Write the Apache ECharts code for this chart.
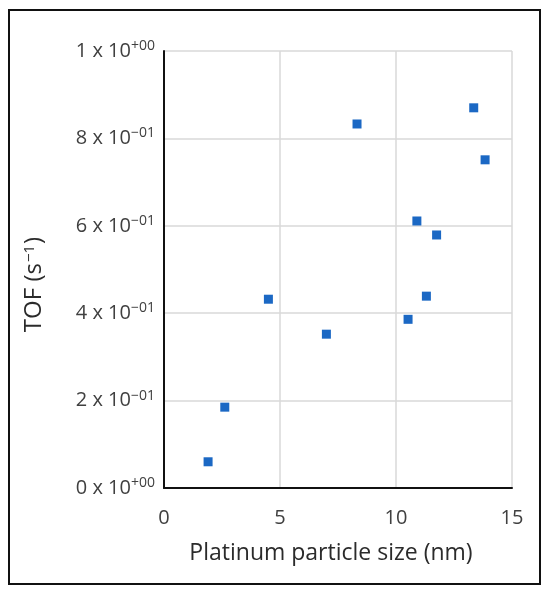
<!DOCTYPE html>
<html lang="en">
<head>
    <meta charset="UTF-8">
    <title>TOF vs particle size</title>
    <style>
        html,body{
            margin: 0px;
            padding: 0px;
            background: #fff;
        }
        #chart{
            width: 550px;
            height: 595px;
        }
    </style>
    <script src="https://cdn.jsdelivr.net/npm/echarts@6/dist/echarts.min.js"></script>
</head>
<body>
<div id="chart"></div>
<script>
    // particle size (nm) and TOF (s^-1)
    var sizeNm = [1.9, 2.62, 4.5, 7.0, 8.32, 10.52, 10.9, 11.75, 11.31, 13.35, 13.84];
    var tof    = [0.060, 0.185, 0.432, 0.352, 0.833, 0.386, 0.611, 0.579, 0.439, 0.870, 0.751];

    var xTicks = [0, 5, 10, 15];
    var yTicks = [0, 0.2, 0.4, 0.6, 0.8, 1.0];
    // mantissa / exponent of the y tick labels
    var yTickMantissa = ['0', '2', '4', '6', '8', '1'];
    var yTickExp      = ['+00', '\u221201', '\u221201', '\u221201', '\u221201', '+00'];

    var points = sizeNm.map(function (x, i) { return [x, tof[i]]; });

    var font = '"Open Sans", "Noto Sans", sans-serif';
    var chart = echarts.init(document.getElementById('chart'));
    var option = {
        backgroundColor: '#fff',
        animation: false,
        graphic: [{
            type: 'rect',
            shape: { x: 9, y: 10, width: 531, height: 574 },
            style: { fill: 'none', stroke: '#111', lineWidth: 2 },
            silent: true
        }],
        grid: {
            left: 164,
            top: 51,
            right: 38,
            bottom: 107
        },
        xAxis: {
            type: 'value',
            min: xTicks[0],
            max: xTicks[xTicks.length - 1],
            interval: 5,
            name: 'Platinum particle size (nm)',
            nameLocation: 'middle',
            nameGap: 54,
            nameTextStyle: { fontFamily: font, fontSize: 23, color: '#2b2b2b', padding: [0, 14, 0, 0] },
            axisLine: { show: true, onZero: false, lineStyle: { color: '#111', width: 2 } },
            axisTick: { show: false },
            axisLabel: { fontFamily: font, fontSize: 20, color: '#404040', margin: 20 },
            splitLine: { show: true, lineStyle: { color: '#d9d9d9', width: 1.5 } }
        },
        yAxis: {
            type: 'value',
            min: yTicks[0],
            max: yTicks[yTicks.length - 1],
            interval: 0.2,
            name: '{t|TOF (s}{s|\u22121}{t|)}',
            nameLocation: 'middle',
            nameGap: 117,
            nameTextStyle: {
                padding: [0, 30, 0, 0],
                rich: {
                    t: { fontFamily: font, fontSize: 24, color: '#2b2b2b' },
                    s: { fontFamily: font, fontSize: 15, color: '#2b2b2b', verticalAlign: 'top', padding: [0, 1, 10, 1] }
                }
            },
            axisLine: { show: true, lineStyle: { color: '#111', width: 2 } },
            axisTick: { show: false },
            axisLabel: {
                margin: 9,
                formatter: function (v) {
                    var i = Math.round(v / 0.2);
                    return '{m|' + yTickMantissa[i] + ' x 10}{e|' + yTickExp[i] + '}';
                },
                rich: {
                    m: { fontFamily: font, fontSize: 20, color: '#404040' },
                    e: { fontFamily: font, fontSize: 14, color: '#404040', verticalAlign: 'top', padding: [0, 0, 10, 0] }
                }
            },
            splitLine: { show: true, lineStyle: { color: '#d9d9d9', width: 1.5 } }
        },
        series: [{
            type: 'scatter',
            data: points,
            symbol: 'rect',
            symbolSize: 9,
            itemStyle: { color: '#1b68c4', opacity: 1 }
        }]
    };
    chart.setOption(option);
</script>
</body>
</html>
